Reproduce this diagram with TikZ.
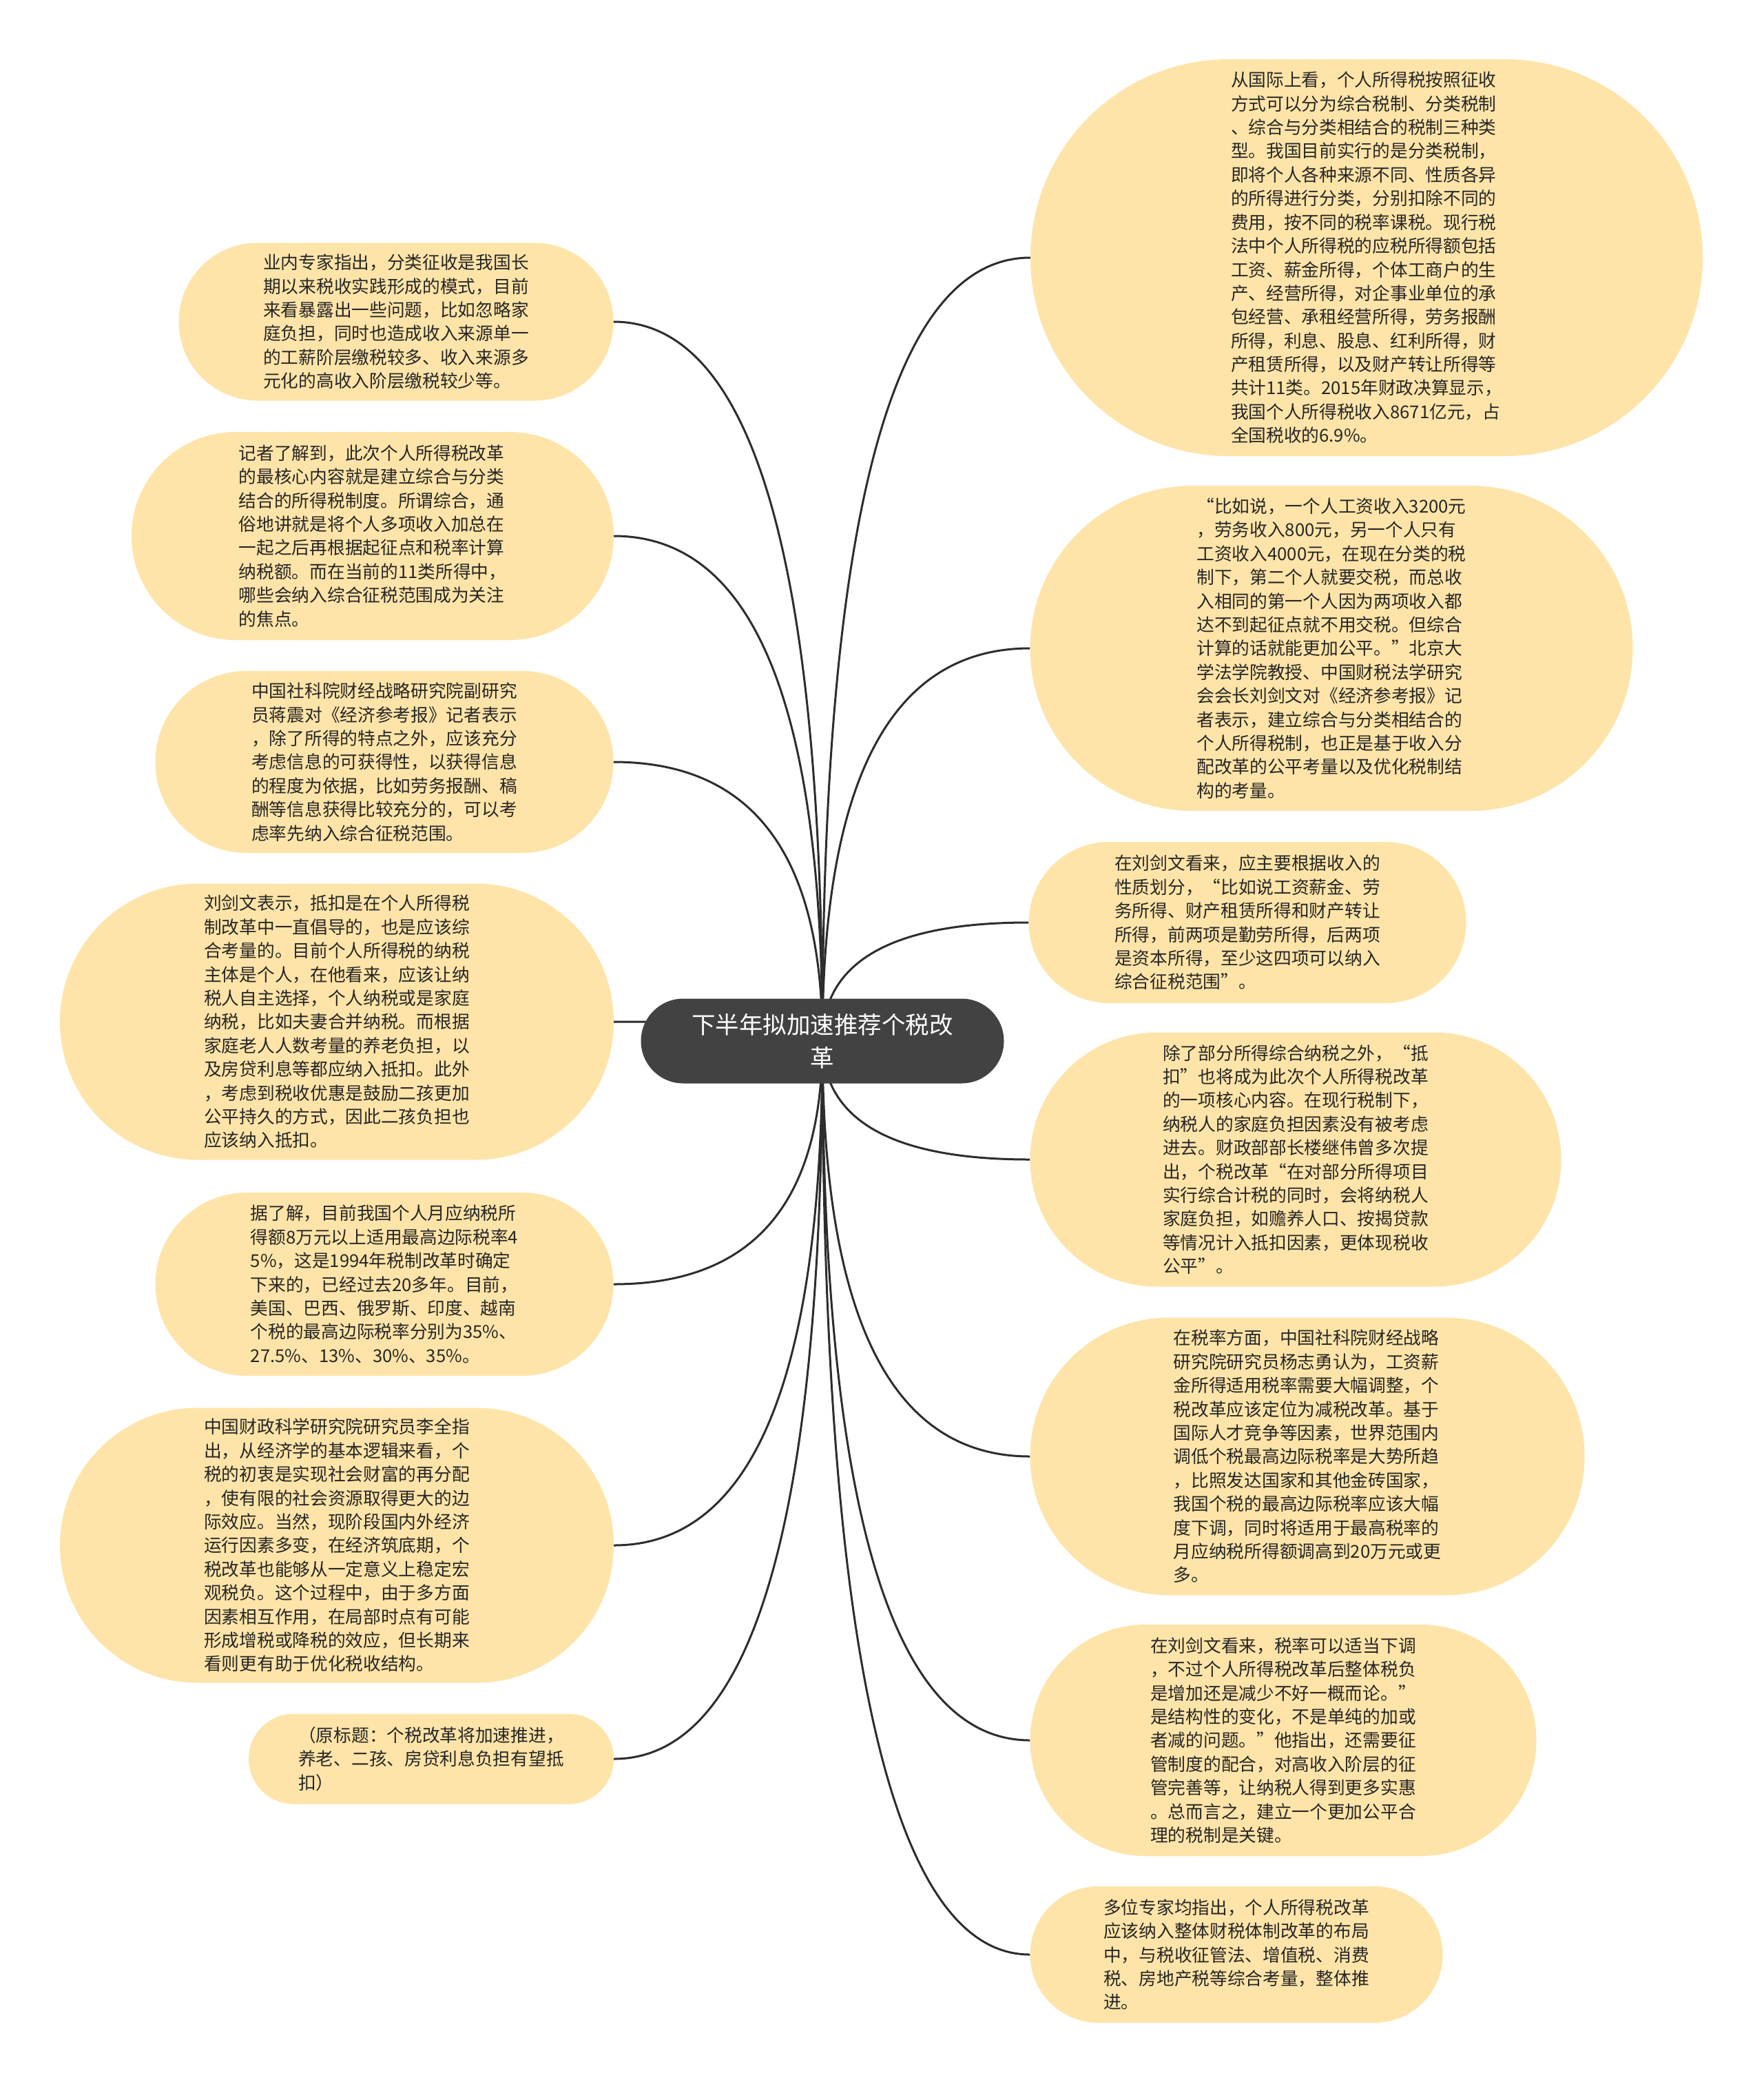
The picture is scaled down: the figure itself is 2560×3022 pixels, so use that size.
\documentclass[tikz,border=0pt]{standalone}
\usepackage{fontspec}
\setmainfont{Noto Sans CJK SC}
\usetikzlibrary{shapes.misc,calc,backgrounds}
\definecolor{leafcol}{RGB}{254,228,168}
\definecolor{hubcol}{RGB}{66,66,66}
\definecolor{inkcol}{RGB}{38,38,38}
\definecolor{linkcol}{RGB}{45,45,45}
\tikzset{
  leaf/.style={rounded rectangle, fill=leafcol, inner sep=0pt, align=left, text=inkcol,
    font=\fontsize{25.7}{34.4}\selectfont},
  hubbox/.style={rounded rectangle, fill=hubcol, inner sep=0pt, align=center, text=white,
    font=\fontsize{34.5}{48}\selectfont},
  link/.style={draw=linkcol, line width=3pt},
}
\begin{document}
\begin{tikzpicture}[x=1pt,y=-1pt]
  \useasboundingbox (0,0) rectangle (2560,3022);
  % white page
  \begin{scope}[on background layer]
    \fill[white] (0,0) rectangle (2560,3022);
  \end{scope}
  % central topic
  \node[hubbox, minimum width=527pt, minimum height=123pt] (hub) at (1194,1511)
    {下半年拟加速推荐个税改\\革};
  % left column
  \node[leaf, minimum width=631pt, minimum height=229pt] (l1) at (575,467)
    {业内专家指出，分类征收是我国长\\期以来税收实践形成的模式，目前\\来看暴露出一些问题，比如忽略家\\庭负担，同时也造成收入来源单一\\的工薪阶层缴税较多、收入来源多\\元化的高收入阶层缴税较少等。};
  \node[leaf, minimum width=700pt, minimum height=302pt] (l2) at (541,778)
    {记者了解到，此次个人所得税改革\\的最核心内容就是建立综合与分类\\结合的所得税制度。所谓综合，通\\俗地讲就是将个人多项收入加总在\\一起之后再根据起征点和税率计算\\纳税额。而在当前的11类所得中，\\哪些会纳入综合征税范围成为关注\\的焦点。};
  \node[leaf, minimum width=665pt, minimum height=264pt] (l3) at (558,1106)
    {中国社科院财经战略研究院副研究\\员蒋震对《经济参考报》记者表示\\，除了所得的特点之外，应该充分\\考虑信息的可获得性，以获得信息\\的程度为依据，比如劳务报酬、稿\\酬等信息获得比较充分的，可以考\\虑率先纳入综合征税范围。};
  \node[leaf, minimum width=804pt, minimum height=401pt] (l4) at (489,1483)
    {刘剑文表示，抵扣是在个人所得税\\制改革中一直倡导的，也是应该综\\合考量的。目前个人所得税的纳税\\主体是个人，在他看来，应该让纳\\税人自主选择，个人纳税或是家庭\\纳税，比如夫妻合并纳税。而根据\\家庭老人人数考量的养老负担，以\\及房贷利息等都应纳入抵扣。此外\\，考虑到税收优惠是鼓励二孩更加\\公平持久的方式，因此二孩负担也\\应该纳入抵扣。};
  \node[leaf, minimum width=665pt, minimum height=266pt] (l5) at (558,1864)
    {据了解，目前我国个人月应纳税所\\得额8万元以上适用最高边际税率4\\5\%，这是1994年税制改革时确定\\下来的，已经过去20多年。目前，\\美国、巴西、俄罗斯、印度、越南\\个税的最高边际税率分别为35\%、\\27.5\%、13\%、30\%、35\%。};
  \node[leaf, minimum width=804pt, minimum height=399pt] (l6) at (489,2243)
    {中国财政科学研究院研究员李全指\\出，从经济学的基本逻辑来看，个\\税的初衷是实现社会财富的再分配\\，使有限的社会资源取得更大的边\\际效应。当然，现阶段国内外经济\\运行因素多变，在经济筑底期，个\\税改革也能够从一定意义上稳定宏\\观税负。这个过程中，由于多方面\\因素相互作用，在局部时点有可能\\形成增税或降税的效应，但长期来\\看则更有助于优化税收结构。};
  \node[leaf, minimum width=530pt, minimum height=131pt] (l7) at (626,2553)
    {（原标题：个税改革将加速推进，\\养老、二孩、房贷利息负担有望抵\\扣）};
  % right column
  \node[leaf, minimum width=976pt, minimum height=576pt] (r1) at (1984,374)
    {从国际上看，个人所得税按照征收\\方式可以分为综合税制、分类税制\\、综合与分类相结合的税制三种类\\型。我国目前实行的是分类税制，\\即将个人各种来源不同、性质各异\\的所得进行分类，分别扣除不同的\\费用，按不同的税率课税。现行税\\法中个人所得税的应税所得额包括\\工资、薪金所得，个体工商户的生\\产、经营所得，对企事业单位的承\\包经营、承租经营所得，劳务报酬\\所得，利息、股息、红利所得，财\\产租赁所得，以及财产转让所得等\\共计11类。2015年财政决算显示，\\我国个人所得税收入8671亿元，占\\全国税收的6.9\%。};
  \node[leaf, minimum width=875pt, minimum height=472pt] (r2) at (1933,941)
    {“比如说，一个人工资收入3200元\\，劳务收入800元，另一个人只有\\工资收入4000元，在现在分类的税\\制下，第二个人就要交税，而总收\\入相同的第一个人因为两项收入都\\达不到起征点就不用交税。但综合\\计算的话就能更加公平。”北京大\\学法学院教授、中国财税法学研究\\会会长刘剑文对《经济参考报》记\\者表示，建立综合与分类相结合的\\个人所得税制，也正是基于收入分\\配改革的公平考量以及优化税制结\\构的考量。};
  \node[leaf, minimum width=635pt, minimum height=234pt] (r3) at (1811,1339)
    {在刘剑文看来，应主要根据收入的\\性质划分，“比如说工资薪金、劳\\务所得、财产租赁所得和财产转让\\所得，前两项是勤劳所得，后两项\\是资本所得，至少这四项可以纳入\\综合征税范围”。};
  \node[leaf, minimum width=771pt, minimum height=369pt] (r4) at (1881,1683)
    {除了部分所得综合纳税之外，“抵\\扣”也将成为此次个人所得税改革\\的一项核心内容。在现行税制下，\\纳税人的家庭负担因素没有被考虑\\进去。财政部部长楼继伟曾多次提\\出，个税改革“在对部分所得项目\\实行综合计税的同时，会将纳税人\\家庭负担，如赡养人口、按揭贷款\\等情况计入抵扣因素，更体现税收\\公平”。};
  \node[leaf, minimum width=805pt, minimum height=403pt] (r5) at (1898,2114)
    {在税率方面，中国社科院财经战略\\研究院研究员杨志勇认为，工资薪\\金所得适用税率需要大幅调整，个\\税改革应该定位为减税改革。基于\\国际人才竞争等因素，世界范围内\\调低个税最高边际税率是大势所趋\\，比照发达国家和其他金砖国家，\\我国个税的最高边际税率应该大幅\\度下调，同时将适用于最高税率的\\月应纳税所得额调高到20万元或更\\多。};
  \node[leaf, minimum width=735pt, minimum height=336pt] (r6) at (1863,2526)
    {在刘剑文看来，税率可以适当下调\\，不过个人所得税改革后整体税负\\是增加还是减少不好一概而论。”\\是结构性的变化，不是单纯的加或\\者减的问题。”他指出，还需要征\\管制度的配合，对高收入阶层的征\\管完善等，让纳税人得到更多实惠\\。总而言之，建立一个更加公平合\\理的税制是关键。};
  \node[leaf, minimum width=599pt, minimum height=198pt] (r7) at (1795,2837)
    {多位专家均指出，个人所得税改革\\应该纳入整体财税体制改革的布局\\中，与税收征管法、增值税、消费\\税、房地产税等综合考量，整体推\\进。};
  % curved branches, behind the boxes
  \begin{scope}[on background layer]
    \foreach \i in {1,...,7} {
      \draw[link] (hub.center) .. controls ($(hub.center)!0.667!(hub.center |- l\i.east)$)
        and ($(l\i.east)!0.667!(hub.center |- l\i.east)$) .. (l\i.east);
      \draw[link] (hub.center) .. controls ($(hub.center)!0.667!(hub.center |- r\i.west)$)
        and ($(r\i.west)!0.667!(hub.center |- r\i.west)$) .. (r\i.west);
    }
  \end{scope}
\end{tikzpicture}
\end{document}
